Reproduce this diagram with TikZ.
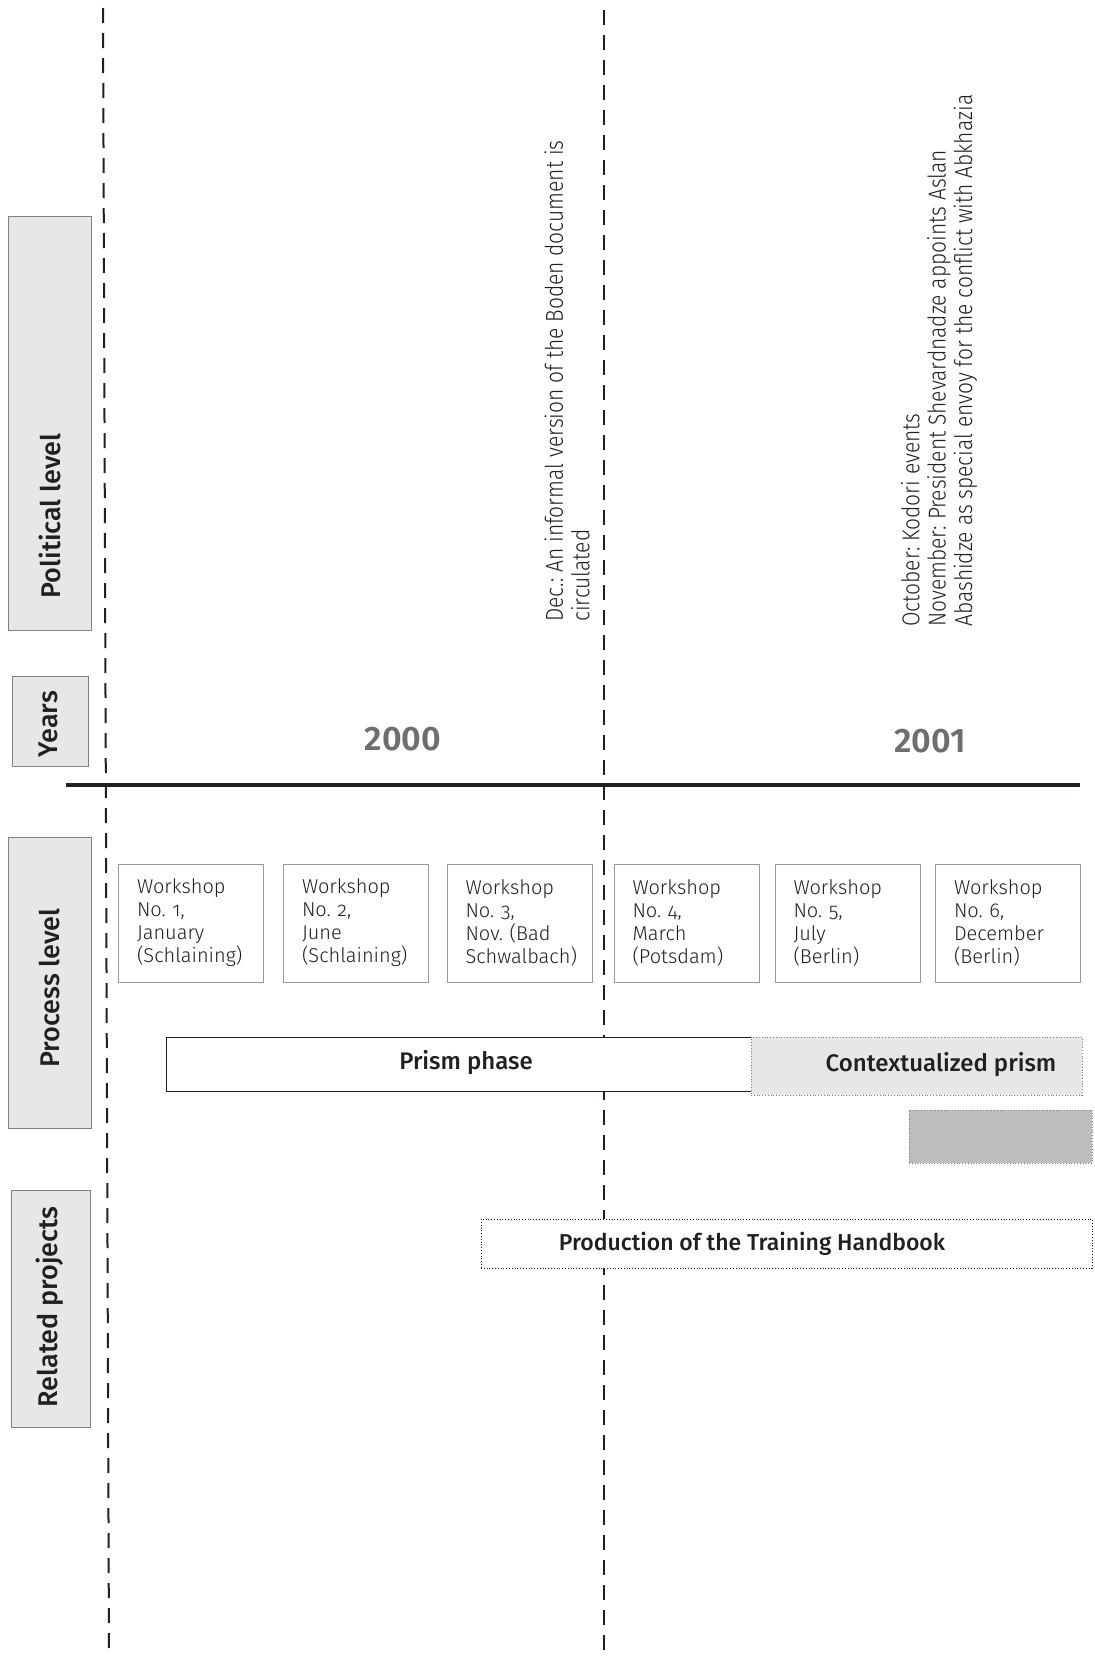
\documentclass[tikz,border=0pt]{standalone}
\usepackage{fontspec}
\setmainfont{Fira Sans}[Numbers={OldStyle,Proportional},UprightFont={Fira Sans Light},BoldFont={Fira Sans Medium}]
\newfontfamily\yearfont{Fira Sans}[BoldFont={Fira Sans SemiBold}]
\newfontfamily\condfont{Fira Sans Light}[FakeStretch=0.86,Numbers={OldStyle,Proportional}]
\definecolor{boxgray}{HTML}{E6E7E8}
\definecolor{darkbox}{HTML}{BCBEC0}
\definecolor{yeargray}{HTML}{6D6E71}
\definecolor{inkblack}{HTML}{231F20}
\frenchspacing
\begin{document}
\begin{tikzpicture}
            [x=0.5pt,y=-0.5pt,
             LevelBox/.style={rectangle,draw=gray,fill=boxgray,thin,rotate=90,inner sep=0pt},
             LevelText/.style={rotate=90,font=\bfseries\fontsize{13.5}{15}\selectfont,text=inkblack,inner sep=0pt},
             Workshop/.style={rectangle,draw=gray!80,thin,fill=white,minimum width=72.5pt,minimum height=59pt,text width=54pt,align=left,inner xsep=9pt,font=\fontsize{10}{11.5}\selectfont,text=inkblack},
             Bar/.style={rectangle,inner sep=0pt,font=\bfseries\fontsize{12}{14}\selectfont,text=inkblack},
             Event/.style={rotate=90,anchor=west,align=left,inner sep=0pt,font=\condfont\fontsize{12.2}{13.2}\selectfont,text=inkblack},
             Year/.style={font=\yearfont\bfseries\fontsize{17}{19}\selectfont,text=yeargray}]
            \useasboundingbox (0,0) rectangle (1094,1660);

            \draw[line width=1pt,dash pattern=on 7.5pt off 5pt,inkblack] (103,8)--(109,1657);
            \draw[line width=1pt,dash pattern=on 7.5pt off 5pt,inkblack] (604,10)--(604,1655);
            \draw[line width=1.6pt,inkblack] (66,785)--(1080,785);

            \node[LevelBox,minimum width=207pt,minimum height=41.25pt] (political) at (50,423) {};
            \node[LevelText] at (50,516) {Political level};
            \node[LevelBox,minimum width=45pt,minimum height=38pt] (years) at (50,721) {};
            \node[LevelText] at (48,724) {Years};
            \node[LevelBox,minimum width=145.5pt,minimum height=41.25pt] (process) at (50,982.5) {};
            \node[LevelText] at (50,988) {Process level};
            \node[LevelBox,minimum width=118.5pt,minimum height=39.7pt] (related) at (51,1308.5) {};
            \node[LevelText] at (50,1307) {Related projects};

            \node[Event] (dec) at (567,622) {Dec.: An informal version of the Boden document is\\circulated};
            \node[Event] (octnov) at (939,627) {October: Kodori events\\November: President Shevardnadze appoints Aslan\\Abashidze as special envoy for the conflict with Abkhazia};

            \node[Year] (y2000) at (403,739) {2000};
            \node[Year] (y2001) at (930,741) {2001};

            \node[Workshop] (w1) at (191,923) {Workshop\\No. 1,\\January\\(Schlaining)};
            \node[Workshop] (w2) at (356,923) {Workshop\\No. 2,\\June\\(Schlaining)};
            \node[Workshop] (w3) at (519.5,923) {Workshop\\No. 3,\\Nov. (Bad\\Schwalbach)};
            \node[Workshop] (w4) at (686.5,923) {Workshop\\No. 4,\\March\\(Potsdam)};
            \node[Workshop] (w5) at (847.5,923) {Workshop\\No. 5,\\July\\(Berlin)};
            \node[Workshop] (w6) at (1008,923) {Workshop\\No. 6,\\December\\(Berlin)};

            \node[Bar,draw=inkblack,fill=white,minimum width=292.5pt,minimum height=27pt] (prism) at (458.5,1064) {};
            \node[Bar] (prismtext) at (466,1063) {Prism phase};
            \node[Bar,draw=gray,densely dotted,fill=boxgray,minimum width=165.5pt,minimum height=29pt] (context) at (916.5,1066) {};
            \node[Bar] (contexttext) at (941,1065) {Contextualized prism};
            \node[Bar,draw=gray,densely dotted,fill=darkbox,minimum width=91.5pt,minimum height=26.5pt] (shade) at (1000.5,1136.5) {};
            \node[Bar,draw=inkblack,densely dotted,fill=white,minimum width=305.5pt,minimum height=24.5pt] (handbook) at (786.5,1243.5) {};
            \node[Bar,font=\bfseries\fontsize{11.5}{13}\selectfont] (handbooktext) at (752,1244) {Production of the Training Handbook};
        \end{tikzpicture}
\end{document}
